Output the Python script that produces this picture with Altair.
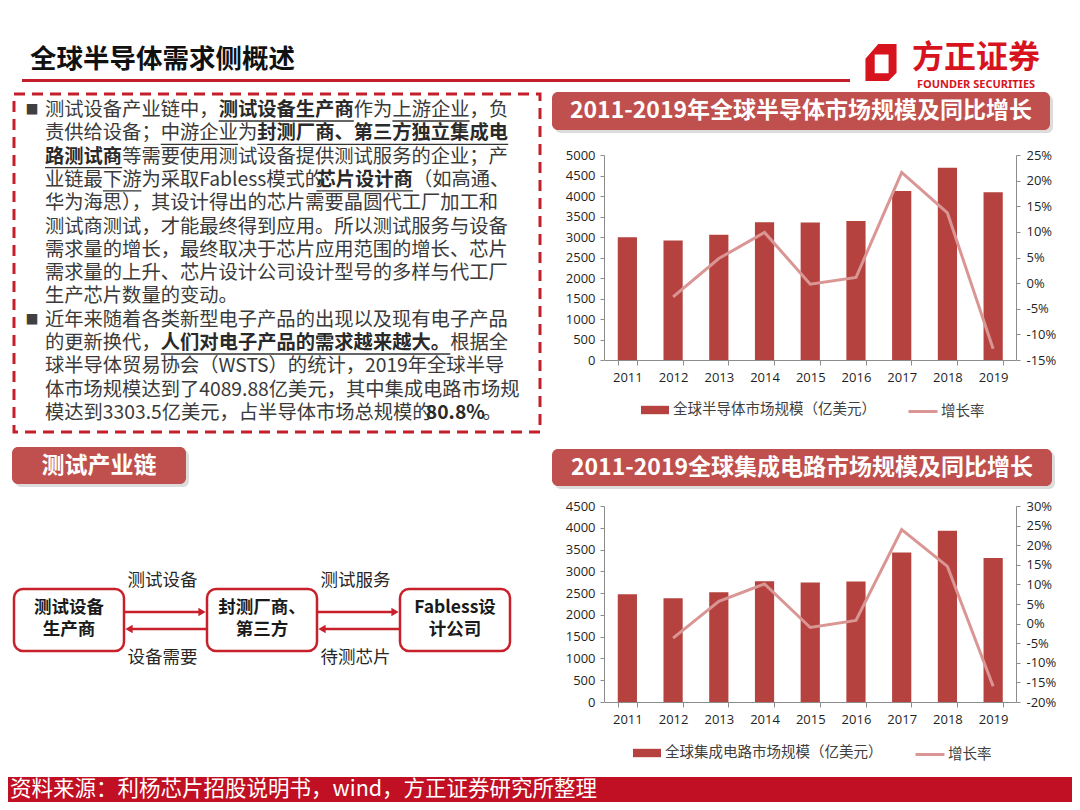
import altair as alt
import pandas as pd

W, H = 1064, 794
FONT = "Noto Sans CJK SC"
NUMFONT = "Open Sans"


def P(v):
    return v - 8


# ---------------- data ----------------
years = ["2011", "2012", "2013", "2014", "2015", "2016", "2017", "2018", "2019"]
semi_size = [2995, 2916, 3056, 3358, 3352, 3389, 4122, 4688, 4090]
semi_growth = [None, -2.7, 4.8, 9.9, -0.2, 1.1, 21.6, 13.7, -12.8]
ic_size = [2474, 2382, 2518, 2773, 2745, 2767, 3432, 3933, 3304]
ic_growth = [None, -3.7, 5.7, 10.1, -1.0, 0.8, 24.0, 14.6, -16.0]
semi_label = "全球半导体市场规模（亿美元）"
ic_label = "全球集成电路市场规模（亿美元）"
growth_label = "增长率"

PARA = [
    [("测试设备产业链中，", "n"), ("测试设备生产商", "bu"), ("作为", "n"), ("上游企业", "u"), ("，负", "n")],
    [("责供给设备；", "n"), ("中游企业", "u"), ("为", "n"), ("封测厂商、第三方独立集成电", "bu")],
    [("路测试商", "bu"), ("等需要使用测试设备提供测试服务的企业；产", "n")],
    [("业链最", "n"), ("下游", "u"), ("为采取Fabless模式的", "n"), ("芯片设计商", "bu"), ("（如高通、", "n")],
    [("华为海思），其设计得出的芯片需要晶圆代工厂加工和", "n")],
    [("测试商测试，才能最终得到应用。所以测试服务与设备", "n")],
    [("需求量的增长，最终取决于芯片应用范围的增长、芯片", "n")],
    [("需求量的上升、芯片设计公司设计型号的多样与代工厂", "n")],
    [("生产芯片数量的变动。", "n")],
    [("近年来随着各类新型电子产品的出现以及现有电子产品", "n")],
    [("的更新换代，", "n"), ("人们对电子产品的需求越来越大。", "bu"), ("根据全", "n")],
    [("球半导体贸易协会（WSTS）的统计，2019年全球半导", "n")],
    [("体市场规模达到了4089.88亿美元，其中集成电路市场规", "n")],
    [("模达到3303.5亿美元，占半导体市场总规模的", "n"), ("80.8%", "b"), ("。", "n")],
]
BULLET_LINES = [0, 9]

# ---------------- colours ----------------
RED = "#C41E2A"
LOGO_RED = "#D7141E"
HDR = "#C0504D"
BAR = "#B5423F"
LINE = "#D99694"
AX = "#8C8C8C"
LAB = "#1F1F1F"
TXT = "#3A3A3A"
FOOT = "#C10F23"

one = pd.DataFrame({"k": [0]})
IDX = alt.Scale(domain=[8, 8 + W], range=[0, W], nice=False, zero=False)
IDY = alt.Scale(domain=[8, 8 + H], range=[0, H], nice=False, zero=False)


def text(t, x, y, size, color, weight="normal", align="left", font=FONT):
    return alt.Chart(one).mark_text(
        text=t, fontSize=size, color=color, fontWeight=weight, align=align,
        baseline="middle", font=font,
    ).encode(x=alt.value(P(x)), y=alt.value(P(y)))


def rect(x0, x1, y0, y1, **kw):
    return alt.Chart(one).mark_rect(**kw).encode(
        x=alt.value(P(x0)), x2=alt.value(P(x1)), y=alt.value(P(y0)), y2=alt.value(P(y1))
    )


def rule(x0, x1, y0, y1, **kw):
    return alt.Chart(one).mark_rule(**kw).encode(
        x=alt.value(P(x0)), x2=alt.value(P(x1)), y=alt.value(P(y0)), y2=alt.value(P(y1))
    )


def symbol(shape, x, y, size, color):
    return alt.Chart(one).mark_point(
        shape=shape, size=size, filled=True, color=color, opacity=1, strokeWidth=0
    ).encode(x=alt.value(P(x)), y=alt.value(P(y)))


LAT = {"F": 0.466, "a": 0.486, "b": 0.552, "l": 0.242, "e": 0.493, "s": 0.412,
       "W": 0.77, "S": 0.53, "T": 0.50, ".": 0.249, "%": 0.815, " ": 0.224}


def tw(s, fs, bold=False):
    w = 0.0
    for c in s:
        if ord(c) > 0x2000:
            w += fs
        else:
            w += LAT.get(c, 0.497) * fs * (1.15 if bold else 1.0)
    return w


layers = []

# ---------------- title & logo ----------------
layers.append(text("全球半导体需求侧概述", 30, 60, 26.5, "#111111", "bold"))
layers.append(rect(22, 850, 79, 82, color=RED))
LOGO_PATH = ("M-0.84,-0.2L-0.15,-1L0.84,-1L0.84,0.55L0.4,1L-0.84,1Z "
             "M-0.34,-0.43L-0.34,0.58L0.41,0.58L0.41,-0.43Z")
layers.append(symbol(LOGO_PATH, 881, 62.5, 1369, LOGO_RED))
layers.append(text("方正证券", 976, 58, 32, LOGO_RED, "bold", "center"))
layers.append(text("FOUNDER SECURITIES", 976, 85, 11, LOGO_RED, "bold", "center", font="Noto Sans"))

# ---------------- dashed text box ----------------
layers.append(rect(14, 540, 94, 432, fill="white", fillOpacity=0, stroke=RED,
                   strokeWidth=3, strokeDash=[11, 7]))

FS = 19.3
LS = 23.3
rows_n, rows_b, ul = [], [], []
for i, line in enumerate(PARA):
    y = 110 + i * LS
    x = 45.0
    for seg, st in line:
        bold = "b" in st
        w = tw(seg, FS, bold)
        (rows_b if bold else rows_n).append({"t": seg, "px": x, "py": y})
        if "u" in st:
            ul.append({"x0": x, "x1": x + w, "yy": y + 11})
        x += w
for i in BULLET_LINES:
    layers.append(text("■", 32, 110 + i * LS, 13, "#404040", align="center"))

for rows, weight, col in [(rows_n, "normal", TXT), (rows_b, "bold", "#2A2A2A")]:
    layers.append(
        alt.Chart(pd.DataFrame(rows)).mark_text(
            align="left", baseline="middle", fontSize=FS, font=FONT, color=col, fontWeight=weight
        ).encode(
            x=alt.X("px:Q", scale=IDX, axis=None),
            y=alt.Y("py:Q", scale=IDY, axis=None),
            text="t:N",
        )
    )
layers.append(
    alt.Chart(pd.DataFrame(ul)).mark_rule(color="#333333", strokeWidth=1.3).encode(
        x=alt.X("x0:Q", scale=IDX, axis=None), x2="x1:Q",
        y=alt.Y("yy:Q", scale=IDY, axis=None),
    )
)

# ---------------- section headers ----------------
def header(x0, x1, y0, y1, label, size):
    return [
        rect(x0 + 3, x1 + 3, y0 + 3, y1 + 3, color="#9A9A9A", opacity=0.35, cornerRadius=6),
        rect(x0, x1, y0, y1, color=HDR, cornerRadius=6),
        text(label, (x0 + x1) / 2, (y0 + y1) / 2, size, "white", "bold", "center"),
    ]


layers += header(552, 1050, 92, 130, "2011-2019年全球半导体市场规模及同比增长", 23)
layers += header(552, 1052, 449, 486, "2011-2019全球集成电路市场规模及同比增长", 23)
layers += header(12, 186, 447, 484, "测试产业链", 23)

# ---------------- flow chart ----------------
BOX_RED = "#C8202A"
boxes = [(14, 124, ["测试设备", "生产商"]), (207, 317, ["封测厂商、", "第三方"]),
         (400, 510, ["Fabless设", "计公司"])]
for x0, x1, lines in boxes:
    layers.append(rect(x0, x1, 589, 651, fill="white", stroke=BOX_RED, strokeWidth=2.5, cornerRadius=9))
    cx = (x0 + x1) / 2
    layers.append(text(lines[0], cx, 608, 17.5, "#1A1A1A", "bold", "center"))
    layers.append(text(lines[1], cx, 630, 17.5, "#1A1A1A", "bold", "center"))

for xa, xb, top_lab, bot_lab in [(124, 207, "测试设备", "设备需要"), (317, 400, "测试服务", "待测芯片")]:
    layers.append(rule(xa, xb - 7, 612, 612, color=BOX_RED, strokeWidth=2.5))
    layers.append(symbol("triangle-right", xb - 5, 612, 70, BOX_RED))
    layers.append(rule(xa + 7, xb, 629, 629, color=BOX_RED, strokeWidth=2.5))
    layers.append(symbol("triangle-left", xa + 5, 629, 70, BOX_RED))
    cx = (xa + xb) / 2 - 3
    layers.append(text(top_lab, cx, 581, 17.5, "#262626", "normal", "center"))
    layers.append(text(bot_lab, cx, 658, 17.5, "#262626", "normal", "center"))

# ---------------- market charts ----------------
RECT_PATH = "M-1,-0.3L1,-0.3L1,0.3L-1,0.3Z"


def market(size, growth, bar_label, ybot, ytop, ymax, gmin, gmax, leg_y, sw_x, ln_x):
    xsc = alt.Scale(domain=years, range=[P(604.5), P(1016)], paddingInner=0.58, paddingOuter=0.29)
    bdf = pd.DataFrame({"year": years, "size": size, "series": bar_label})
    ldf = pd.DataFrame({"year": years[1:], "growth": growth[1:], "series": growth_label})
    common = dict(domainColor=AX, tickColor=AX, labelColor=LAB, labelFont=NUMFONT,
                  labelFontSize=13, grid=False, title=None, domainWidth=1, tickWidth=1)
    bars = alt.Chart(bdf).mark_bar().encode(
        x=alt.X("year:N", scale=xsc, axis=alt.Axis(
            orient="bottom", offset=P(ybot) - H, labelAngle=0, tickBand="extent",
            tickSize=5, labelPadding=6, **common)),
        y=alt.Y("size:Q", scale=alt.Scale(domain=[0, ymax], range=[P(ybot), P(ytop)], nice=False, zero=True),
                axis=alt.Axis(orient="left", offset=-P(604), values=list(range(0, ymax + 1, 500)),
                              format="d", tickSize=4, labelPadding=5, **common)),
        color=alt.Color("series:N", scale=alt.Scale(range=[BAR]), legend=alt.Legend(
            orient="none", legendX=P(sw_x), legendY=P(leg_y) - 14, direction="horizontal", title=None,
            symbolType=RECT_PATH, symbolSize=784, symbolStrokeWidth=0, symbolOpacity=1,
            labelFont=FONT, labelFontSize=14.5, labelColor="#404040", labelOffset=4,
            padding=0, labelLimit=400)),
    )
    line = alt.Chart(ldf).mark_line(strokeWidth=3).encode(
        x=alt.X("year:N", scale=xsc, axis=None),
        y=alt.Y("growth:Q", scale=alt.Scale(domain=[gmin, gmax], range=[P(ybot), P(ytop)], nice=False, zero=False),
                axis=alt.Axis(orient="right", offset=P(1016) - W, values=list(range(gmin, gmax + 1, 5)),
                              labelExpr="datum.value + '%'", tickSize=4, labelPadding=6, **common)),
        stroke=alt.Stroke("series:N", scale=alt.Scale(range=[LINE]), legend=alt.Legend(
            orient="none", legendX=P(ln_x), legendY=P(leg_y) - 14.5, direction="horizontal", title=None,
            symbolType="stroke", symbolSize=841, symbolStrokeWidth=3,
            labelFont=FONT, labelFontSize=14.5, labelColor="#404040", labelOffset=2,
            padding=0, labelLimit=200)),
    )
    return [bars, line]


layers += market(semi_size, semi_growth, semi_label, 360, 155, 5000, -15, 25, 410, 641, 907)
layers += market(ic_size, ic_growth, ic_label, 702, 506, 4500, -20, 30, 753, 633, 914)

# ---------------- footer ----------------
layers.append(rect(0, 1080, 777, 812, color=FOOT))
layers.append(text("资料来源：利杨芯片招股说明书，wind，方正证券研究所整理", 10, 789.5, 21.5, "white"))

chart = (
    alt.layer(*layers)
    .resolve_scale(x="independent", y="independent", color="independent", stroke="independent")
    .properties(width=W, height=H, padding=0, autosize=alt.AutoSizeParams(type="none"),
                background="white")
    .configure_view(strokeWidth=0)
)

chart.save("out.html", embed_options={"renderer": "svg", "actions": False})
